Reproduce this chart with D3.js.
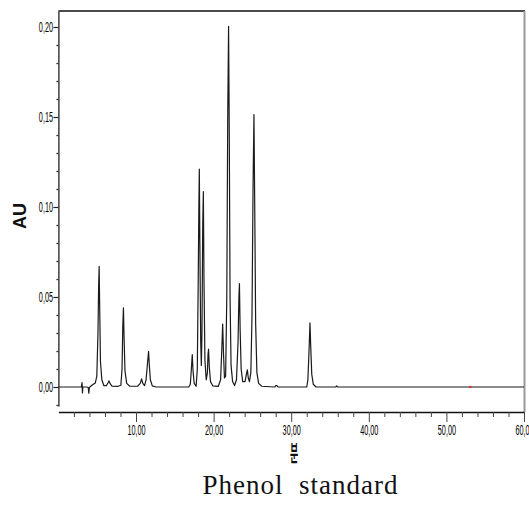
<!DOCTYPE html>
<html>
<head>
<meta charset="utf-8">
<script src="https://cdn.jsdelivr.net/npm/d3@7/dist/d3.min.js"></script>
<style>
  body { margin: 0; background: #fff; }
  svg { display: block; }
</style>
</head>
<body>
<script>
// values
var xTicks = [10, 20, 30, 40, 50, 60];
var xTickLabels = ["10,00", "20,00", "30,00", "40,00", "50,00", "60,00"];
var yTicks = [0, 0.05, 0.10, 0.15, 0.20];
var yTickLabels = ["0,00", "0,05", "0,10", "0,15", "0,20"];

// [minutes, AU]
var trace = [
  [0, 0], [2.95, 0], [3.05, 0.0024], [3.1, -0.0033], [3.15, 0], [3.6, 0],
  [3.85, -0.0003], [3.92, -0.0034], [3.98, -0.0005], [4.05, 0], [4.4, 0.0012],
  [4.75, 0.0022], [4.95, 0.006], [5.1, 0.03], [5.18, 0.055], [5.25, 0.067],
  [5.32, 0.045], [5.42, 0.014], [5.6, 0.004], [5.85, 0.0008], [6.2, 0.0008],
  [6.42, 0.0025], [6.52, 0.0034], [6.65, 0.002], [6.9, 0.0005], [7.6, 0.0003],
  [8.05, 0.001], [8.2, 0.01], [8.3, 0.034], [8.38, 0.044], [8.46, 0.028],
  [8.58, 0.009], [8.8, 0.002], [9.2, 0.0004], [10.2, 0.0004], [10.55, 0.002],
  [10.72, 0.0045], [10.88, 0.002], [11.1, 0.0008], [11.3, 0.004], [11.5, 0.014],
  [11.62, 0.0198], [11.72, 0.012], [11.85, 0.004], [12.1, 0.0006], [12.6, 0],
  [16.8, 0], [17.0, 0.0015], [17.12, 0.009], [17.25, 0.018], [17.35, 0.009],
  [17.5, 0.002], [17.75, 0.0004], [17.9, 0.01], [18.02, 0.06], [18.1, 0.1],
  [18.16, 0.121], [18.23, 0.08], [18.34, 0.025], [18.42, 0.012], [18.5, 0.03],
  [18.6, 0.09], [18.68, 0.1085], [18.76, 0.06], [18.88, 0.015], [19.05, 0.004],
  [19.2, 0.008], [19.28, 0.018], [19.35, 0.021], [19.45, 0.011], [19.6, 0.003],
  [19.9, 0.0006], [20.6, 0.0003], [20.9, 0.004], [21.05, 0.02], [21.17, 0.035],
  [21.28, 0.018], [21.4, 0.005], [21.55, 0.006], [21.7, 0.05], [21.82, 0.15],
  [21.93, 0.2003], [22.02, 0.14], [22.12, 0.05], [22.25, 0.012], [22.45, 0.003],
  [22.7, 0.0008], [22.95, 0.004], [23.15, 0.025], [23.26, 0.05], [23.33, 0.0575],
  [23.42, 0.032], [23.55, 0.01], [23.75, 0.003], [24.05, 0.003], [24.22, 0.007],
  [24.35, 0.0095], [24.47, 0.005], [24.62, 0.003], [24.8, 0.008], [24.95, 0.04],
  [25.08, 0.11], [25.2, 0.1514], [25.3, 0.1], [25.42, 0.035], [25.58, 0.008],
  [25.8, 0.002], [26.2, 0.0004], [27.9, 0], [28.0, 0.0008], [28.15, 0.0008],
  [28.3, 0], [32.0, 0], [32.15, 0.004], [32.28, 0.018], [32.42, 0.0356],
  [32.52, 0.022], [32.65, 0.007], [32.85, 0.0015], [33.2, 0], [35.75, 0],
  [35.86, 0.0006], [35.97, 0], [60, 0]
];
var markerTimes = [53.05];

var yTitle = "AU";
var xTitle = "분";
var caption = "Phenol  standard";

var chartWidth = 529, chartHeight = 509;
var plotLeft = 58.4, plotRight = 524, plotTop = 11, yBottom = 406, xAxisY = 412;

var svg = d3.select("body").append("svg")
    .attr("width", chartWidth)
    .attr("height", chartHeight);

var x = d3.scaleLinear().domain([0, 60]).range([plotLeft, plotRight]);
var y = d3.scaleLinear().domain([-0.01056, 0.20889]).range([yBottom, plotTop]);

// frame: top and right edges
svg.append("line")
    .attr("x1", plotLeft).attr("x2", plotRight + 1)
    .attr("y1", plotTop).attr("y2", plotTop)
    .attr("stroke", "#111").attr("stroke-width", 1.5);
svg.append("line")
    .attr("x1", plotRight + 0.5).attr("x2", plotRight + 0.5)
    .attr("y1", plotTop).attr("y2", xAxisY)
    .attr("stroke", "#999").attr("stroke-width", 2);

var tickFont = "'Liberation Sans', Arial, sans-serif";
var squeeze = 0.52;

// y axis
var yMinor = d3.range(-1, 21).map(function(d) { return d / 100; })
    .filter(function(d) { return Math.round(d * 100) % 5 !== 0; });

svg.append("g")
    .attr("transform", "translate(" + plotLeft + ",0)")
    .call(d3.axisLeft(y).tickValues(yMinor).tickSize(2).tickSizeOuter(0).tickFormat(""))
    .call(function(g) { g.select(".domain").attr("stroke", "#222").attr("stroke-width", 1.3); })
    .call(function(g) { g.selectAll(".tick line").attr("stroke", "#333").attr("stroke-width", 1.3); });

var yAxis = svg.append("g")
    .attr("transform", "translate(" + plotLeft + ",0)")
    .call(d3.axisLeft(y).tickValues(yTicks).tickSize(5).tickSizeOuter(0)
      .tickFormat(function(d, i) { return yTickLabels[i]; }));
yAxis.select(".domain").remove();
yAxis.selectAll(".tick line").attr("stroke", "#222").attr("stroke-width", 1.2);
yAxis.selectAll(".tick text")
    .attr("x", -5.4 / squeeze)
    .attr("transform", "scale(" + squeeze + ",1)")
    .attr("fill", "#000")
    .style("font-family", tickFont)
    .style("font-size", "14px");

// x axis
var xMinor = d3.range(2, 60, 2).filter(function(d) { return d % 10 !== 0; });

svg.append("g")
    .attr("transform", "translate(0," + xAxisY + ")")
    .call(d3.axisBottom(x).tickValues(xMinor).tickSize(5).tickSizeOuter(0).tickFormat(""))
    .call(function(g) { g.select(".domain").attr("stroke", "#111").attr("stroke-width", 1.5); })
    .call(function(g) { g.selectAll(".tick line").attr("stroke", "#444"); });

var xAxis = svg.append("g")
    .attr("transform", "translate(0," + xAxisY + ")")
    .call(d3.axisBottom(x).tickValues(xTicks).tickSize(10).tickSizeOuter(0).tickPadding(3)
      .tickFormat(function(d, i) { return xTickLabels[i]; }));
xAxis.select(".domain").remove();
xAxis.selectAll(".tick line").attr("stroke", "#444");
xAxis.selectAll(".tick text")
    .attr("transform", "scale(" + squeeze + ",1)")
    .attr("fill", "#000")
    .style("font-family", tickFont)
    .style("font-size", "14px");

// chromatogram trace
var line = d3.line()
    .x(function(d) { return x(d[0]); })
    .y(function(d) { return y(d[1]); });

svg.append("path")
    .datum(trace)
    .attr("fill", "none")
    .attr("stroke", "#1a1a1a")
    .attr("stroke-width", 1.2)
    .attr("stroke-linejoin", "round")
    .attr("d", line);

svg.selectAll(".marker")
    .data(markerTimes)
    .enter().append("rect")
    .attr("class", "marker")
    .attr("x", function(d) { return x(d) - 1; })
    .attr("y", y(0) - 1)
    .attr("width", 2.5)
    .attr("height", 2)
    .attr("fill", "#e03020");

// titles
svg.append("text")
    .attr("transform", "translate(26,216) rotate(-90)")
    .attr("text-anchor", "middle")
    .style("font-family", tickFont)
    .style("font-weight", "bold")
    .style("font-size", "18px")
    .attr("fill", "#111")
    .text(yTitle);

svg.append("text")
    .attr("transform", "translate(" + (x(30) + 3) + ",461) scale(0.9,2.2)")
    .attr("text-anchor", "middle")
    .style("font-family", "'Noto Sans CJK KR', sans-serif")
    .style("font-weight", "bold")
    .style("font-size", "10px")
    .attr("fill", "#111")
    .text(xTitle);

svg.append("text")
    .attr("x", 300)
    .attr("y", 494)
    .attr("text-anchor", "middle")
    .attr("textLength", 195)
    .attr("lengthAdjust", "spacing")
    .style("white-space", "pre")
    .style("font-family", "'Liberation Serif', 'DejaVu Serif', serif")
    .style("font-size", "27px")
    .attr("fill", "#111")
    .text(caption);
</script>
</body>
</html>
